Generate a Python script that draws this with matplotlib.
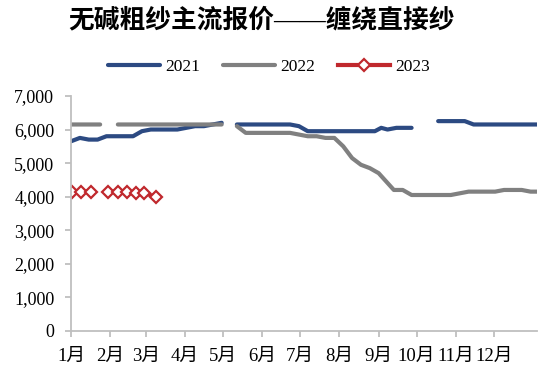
import matplotlib as mpl
import matplotlib.pyplot as plt
import numpy as np

mpl.rcParams['font.family'] = ['Liberation Serif', 'Noto Sans CJK SC']
mpl.rcParams['font.size'] = 13

nan = np.nan

# day of year for each quote; nan marks weeks with no quote
days_2021 = [0, 7, 14, 21, 28, 35, 42, 49, 56, 63, 70, 77, 84, 91, 98, 105,
             112, 119, 125,
             131, 138, 145, 152, 159, 166, 173, 180, 187, 194, 201, 208, 215,
             222, 229, 236, 240, 245, 250, 257, 264, 269, 280,
             290, 297, 304, 311, 318, 325, 332, 339, 346, 353, 360, 368]
price_2021 = [5650, 5750, 5700, 5700, 5800, 5800, 5800, 5800, 5950, 6000,
              6000, 6000, 6000, 6050, 6100, 6100, 6150, 6200, nan,
              6150, 6150, 6150, 6150, 6150, 6150, 6150, 6100, 5950, 5950,
              5950, 5950, 5950, 5950, 5950, 5950, 5950, 6050, 6000, 6050,
              6050, 6050, nan,
              6250, 6250, 6250, 6250, 6150, 6150, 6150, 6150, 6150, 6150,
              6150, 6150]

days_2022 = [0, 7, 14, 23, 30,
             37, 44, 51, 58, 65, 72, 79, 86, 93, 100, 107, 114, 119, 125,
             131, 138, 145, 152, 159, 166, 173, 180, 187, 194, 201, 208, 215,
             222, 229, 236, 243, 249, 255, 262, 269, 276, 283, 290, 297, 300,
             307, 314, 321, 328, 335, 342, 349, 356, 363, 368]
price_2022 = [6150, 6150, 6150, 6150, nan,
              6150, 6150, 6150, 6150, 6150, 6150, 6150, 6150, 6150, 6150,
              6150, 6150, 6150, nan,
              6100, 5900, 5900, 5900, 5900, 5900, 5900, 5850, 5800, 5800,
              5750, 5750, 5500, 5150, 4950, 4850, 4700, 4450, 4200, 4200,
              4050, 4050, 4050, 4050, 4050, 4050, 4100, 4150, 4150, 4150,
              4150, 4200, 4200, 4200, 4150, 4150]

days_2023 = [1, 8, 16, 22, 29, 37, 44, 51, 58, 67]
price_2023 = [4150, 4150, 4150, nan, 4150, 4150, 4150, 4100, 4100, 4000]

month_starts = [0, 31, 59, 90, 120, 151, 181, 212, 243, 273, 304, 334]
month_labels = ['%d月' % m for m in range(1, 13)]

fig = plt.figure(figsize=(5.38, 3.69), dpi=100)
ax = fig.add_axes([0.132, 0.103, 0.866, 0.637])

ax.plot(days_2021, price_2021, color='#2C4A82', lw=3, label='2021',
        solid_capstyle='round')
ax.plot(days_2022, price_2022, color='#808080', lw=3, label='2022',
        solid_capstyle='round')
ax.plot(days_2023, price_2023, color='#C0282D', lw=3, label='2023',
        marker='D', ms=6.5, mfc='white', mec='#C0282D', mew=1.6)

ax.set_xlim(0, 368)
ax.set_ylim(0, 7000)
ax.set_yticks(range(0, 7001, 1000))
ax.yaxis.set_major_formatter(mpl.ticker.StrMethodFormatter('{x:,.0f}'))
ax.set_xticks(month_starts)
ax.set_xticklabels(month_labels, fontsize=13.5)

for side in ['top', 'right']:
    ax.spines[side].set_visible(False)
for side in ['left', 'bottom']:
    ax.spines[side].set_color('#BFBFBF')
    ax.spines[side].set_linewidth(1.3)
ax.tick_params(colors='#BFBFBF', labelcolor='black', length=4, width=1.3,
               direction='out')
ax.tick_params(axis='y', pad=8)
ax.tick_params(axis='x', pad=8)

fig.legend(loc='center', bbox_to_anchor=(0.5, 0.818), ncol=3, frameon=False,
           fontsize=12.5, handlelength=3.0, handletextpad=0.3,
           columnspacing=1.3)

fig.text(0.487, 0.946, '无碱粗纱主流报价——缠绕直接纱', ha='center', va='center',
         fontsize=18.5, fontweight='bold',
         family=['Liberation Serif', 'Noto Sans CJK SC'])

fig.savefig('out.png', dpi=100)
